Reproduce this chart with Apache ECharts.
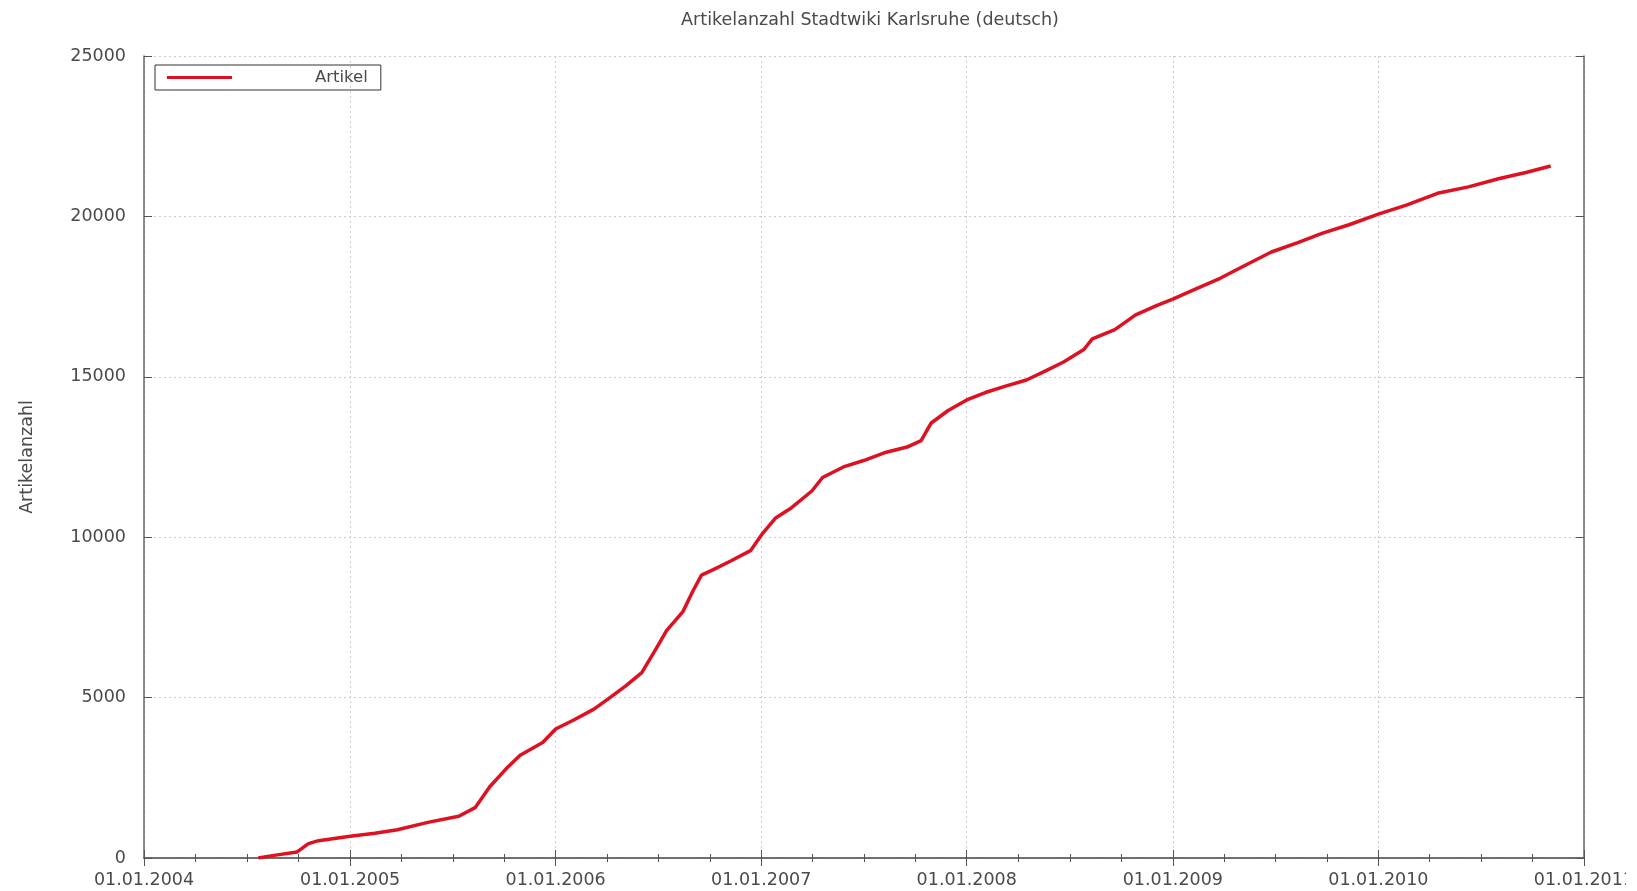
<!DOCTYPE html>
<html>
<head>
<meta charset="utf-8">
<script src="https://cdn.jsdelivr.net/npm/echarts@6/dist/echarts.min.js"></script>
<style>
html,body{margin:0;padding:0;background:#fff;overflow:hidden;}
#wrap{width:1626px;height:891px;overflow:hidden;background:#fff;}
#chart{width:1637px;height:891px;}
</style>
</head>
<body>
<div id="wrap"><div id="chart"></div></div>
<script>
const titleText = 'Artikelanzahl Stadtwiki Karlsruhe (deutsch)';
const yAxisName = 'Artikelanzahl';
const seriesName = 'Artikel';
const xMin = '2004-01-01';
const xMax = '2011-01-01';
const yTicks = [0, 5000, 10000, 15000, 20000, 25000];

const dates = [
 '2004-07-22','2004-08-22','2004-09-29','2004-10-19','2004-11-06',
 '2005-01-01','2005-02-14','2005-03-26','2005-05-19','2005-07-13',
 '2005-08-11','2005-09-06','2005-10-05','2005-10-30','2005-12-09',
 '2006-01-01','2006-02-03','2006-03-10','2006-04-05','2006-05-05',
 '2006-06-03','2006-06-29','2006-07-17','2006-08-15','2006-09-02',
 '2006-09-17','2006-10-08','2006-11-07','2006-12-13','2007-01-04',
 '2007-01-26','2007-02-24','2007-04-01','2007-04-20','2007-05-27',
 '2007-07-02','2007-08-11','2007-09-17','2007-10-12','2007-10-30',
 '2007-11-29','2008-01-01','2008-02-03','2008-03-10','2008-04-16',
 '2008-05-22','2008-06-21','2008-07-27','2008-08-11','2008-09-20',
 '2008-10-27','2008-12-03','2009-01-01','2009-02-07','2009-03-26',
 '2009-05-08','2009-06-25','2009-08-11','2009-09-24','2009-11-10',
 '2010-01-01','2010-02-21','2010-04-16','2010-06-10','2010-08-04',
 '2010-09-20','2010-11-03'
];
const articles = [
 0,90,190,450,540,
 680,770,880,1110,1300,
 1570,2220,2780,3200,3600,
 4020,4310,4640,4970,5360,
 5780,6540,7090,7680,8330,
 8820,8990,9250,9580,10130,
 10590,10920,11440,11860,12190,
 12390,12650,12810,13010,13560,
 13950,14280,14510,14710,14900,
 15200,15460,15850,16180,16470,
 16930,17220,17420,17710,18070,
 18460,18890,19180,19480,19740,
 20070,20360,20720,20920,21180,
 21370,21570
];

const chart = echarts.init(document.getElementById('chart'));
const font = 'DejaVu Sans';
const txt = '#4a4a4a';
const axisLineStyle = {color: '#666', width: 1.5};
const pad = n => (n < 10 ? '0' : '') + n;
const fmtDate = v => { const d = new Date(v); return pad(d.getDate()) + '.' + pad(d.getMonth() + 1) + '.' + d.getFullYear(); };

const baseX = {
  type: 'time',
  min: xMin, max: xMax,
  splitNumber: 7,
  minInterval: 365 * 86400000,
  axisLine: {show: true, lineStyle: axisLineStyle},
  axisTick: {show: true, inside: true, length: 8, lineStyle: {color: '#555', width: 1}},
  minorTick: {show: true, splitNumber: 4, length: 4, lineStyle: {color: '#555', width: 1}},
};
const baseY = {
  type: 'value',
  min: 0, max: 25000, interval: 5000,
  axisLine: {show: true, lineStyle: axisLineStyle},
  axisTick: {show: true, inside: true, length: 8, lineStyle: {color: '#555', width: 1}},
};

chart.setOption({
  backgroundColor: '#fff',
  animation: false,
  title: {
    text: titleText, left: 865, textAlign: 'center', top: 6,
    textStyle: {fontFamily: font, fontSize: 17.5, fontWeight: 'normal', color: txt}
  },
  grid: {left: 144, right: 50, top: 56, bottom: 33},
  legend: {
    left: 155, top: 65,
    orient: 'horizontal',
    borderColor: '#333', borderWidth: 1,
    padding: [4, 13, 4, 12],
    itemWidth: 65, itemHeight: 3, itemGap: 0,
    data: [{name: seriesName, icon: 'rect'}],
    formatter: name => '{g|}' + name,
    textStyle: {fontFamily: font, fontSize: 16.5, color: txt, rich: {g: {width: 78}}}
  },
  xAxis: [
    Object.assign({}, baseX, {
      position: 'bottom',
      axisLabel: {formatter: fmtDate, fontFamily: font, fontSize: 17.5, color: txt, margin: 13, showMinLabel: true, showMaxLabel: true},
      splitLine: {show: true, lineStyle: {color: '#cccccc', type: [2, 3], width: 1}}
    }),
    Object.assign({}, baseX, {
      position: 'top',
      axisLabel: {show: false},
      splitLine: {show: false}
    })
  ],
  yAxis: [
    Object.assign({}, baseY, {
      position: 'left',
      name: yAxisName, nameLocation: 'middle', nameGap: 108, nameRotate: 90,
      nameTextStyle: {fontFamily: font, fontSize: 17.5, color: txt},
      axisLabel: {fontFamily: font, fontSize: 17.5, color: txt, margin: 18, formatter: v => yTicks.includes(v) ? String(v) : ''},
      splitLine: {show: true, lineStyle: {color: '#cccccc', type: [2, 3], width: 1}}
    }),
    Object.assign({}, baseY, {
      position: 'right',
      axisLabel: {show: false},
      splitLine: {show: false}
    })
  ],
  series: [{
    name: seriesName,
    type: 'line',
    xAxisIndex: 0, yAxisIndex: 0,
    showSymbol: false,
    symbol: 'none',
    color: '#dd1122',
    lineStyle: {color: '#dd1122', width: 3.5},
    data: dates.map((d, i) => [d, articles[i]])
  }]
});
</script>
</body>
</html>
